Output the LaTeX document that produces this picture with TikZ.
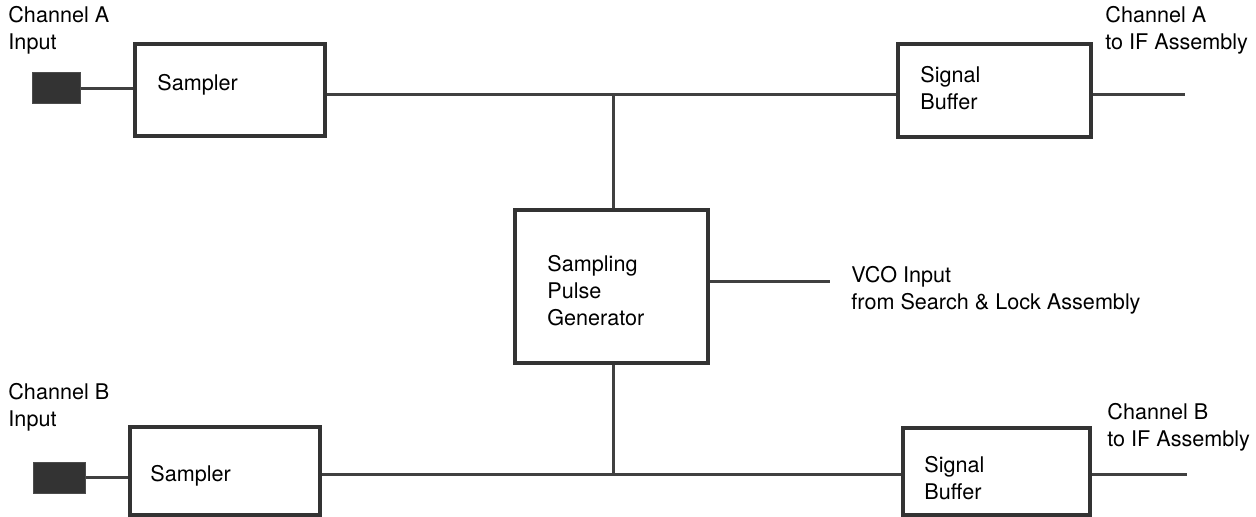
\documentclass[tikz,border=0pt]{standalone}
\usepackage{fontspec}
\setmainfont{TeX Gyre Heros}
\begin{document}
\begin{tikzpicture}[x=0.5pt, y=-0.5pt,
    block/.style={draw=black!80, line width=1.7pt, fill=white, inner sep=0pt},
    wire/.style={draw=black!75, line width=1.5pt},
    jack/.style={fill=black!80, draw=black!70, line width=0.5pt, inner sep=0pt},
    lbl/.style={font=\fontsize{10.8}{13.5}\selectfont, align=left, inner sep=0pt}]
      \path[use as bounding box] (0, 0) rectangle (1256, 517);

      % blocks
      \node[block, minimum width=95pt, minimum height=46pt] (samp_A) at (230, 90) {};
      \node[block, minimum width=96.5pt, minimum height=46.5pt] (buf_A) at (994.5, 90.5) {};
      \node[block, minimum width=96.5pt, minimum height=76.5pt] (gen) at (611.5, 286.5) {};
      \node[block, minimum width=95pt, minimum height=44pt] (samp_B) at (225, 471) {};
      \node[block, minimum width=93.5pt, minimum height=43.5pt] (buf_B) at (996.5, 471.5) {};

      % inputs
      \node[jack, minimum width=24pt, minimum height=15.5pt] (jack_A) at (56, 88.5) {};
      \node[jack, minimum width=26pt, minimum height=15.5pt] (jack_B) at (59, 477.5) {};

      % bus points
      \coordinate (bus_A) at (613, 95);
      \coordinate (bus_B) at (613, 474);
      \coordinate (out_A) at (1185, 95);
      \coordinate (out_B) at (1187, 474);
      \coordinate (vco_in) at (830, 282);

      % wires
      \draw[wire] (jack_A.east) -- (jack_A.east -| samp_A.west);
      \draw[wire] (samp_A.east |- bus_A) -- (buf_A.west |- bus_A);
      \draw[wire] (buf_A.east |- out_A) -- (out_A);
      \draw[wire] (bus_A) -- (bus_A |- gen.north);
      \draw[wire] (vco_in -| gen.east) -- (vco_in);
      \draw[wire] (bus_B |- gen.south) -- (bus_B);
      \draw[wire] (jack_B.east) -- (jack_B.east -| samp_B.west);
      \draw[wire] (samp_B.east |- bus_B) -- (buf_B.west |- bus_B);
      \draw[wire] (buf_B.east |- out_B) -- (out_B);

      % texts
      \node[lbl, anchor=north west] (in_A) at (8, 6) {Channel A\\Input};
      \node[lbl, anchor=north west] (in_B) at (8, 383) {Channel B\\Input};
      \node[lbl, anchor=north west] (to_A) at (1105, 6) {Channel A\\to IF Assembly};
      \node[lbl, anchor=north west] (to_B) at (1107, 403) {Channel B\\to IF Assembly};
      \node[lbl, anchor=base west] (txt_samp_A) at (157, 91) {Sampler};
      \node[lbl, anchor=base west] (txt_samp_B) at (150, 481) {Sampler};
      \node[lbl, anchor=north west] (txt_buf_A) at (920, 66) {Signal\\Buffer};
      \node[lbl, anchor=north west] (txt_buf_B) at (924, 456) {Signal\\Buffer};
      \node[lbl, anchor=north west] (txt_gen) at (547, 255) {Sampling\\Pulse\\Generator};
      \node[lbl, anchor=north west] (txt_vco) at (851, 266) {VCO Input\\from Search \& Lock Assembly};
    \end{tikzpicture}
\end{document}
